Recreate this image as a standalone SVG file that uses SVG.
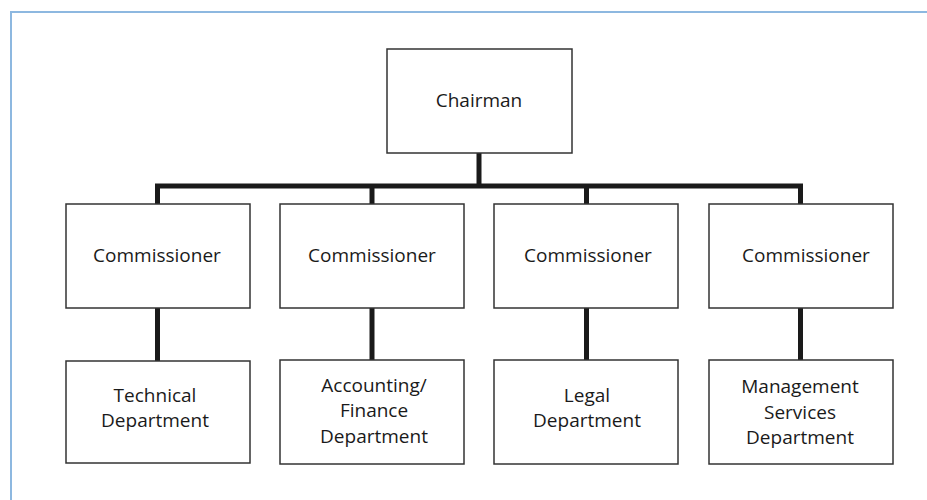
<svg xmlns="http://www.w3.org/2000/svg" width="927" height="500" viewBox="0 0 927 500">
<style>
.box{fill:#fff;stroke:#333;stroke-width:1.5}
.t{font-family:"Open Sans","Noto Sans",sans-serif;font-size:19px;fill:#1a1a1a;text-anchor:middle}
.c{stroke:#1a1a1a;stroke-width:5;fill:none}
.frame{stroke:#8db8e0;stroke-width:2;fill:none}
</style>
<rect width="927" height="500" fill="#fff"/>
<path class="frame" d="M11,500 V12 H927"/>
<g id="connectors">
<path class="c" d="M479,153 V186"/>
<path class="c" d="M155,186 H803"/>
<path class="c" d="M157.5,186 V204 M372,186 V204 M586.5,186 V204 M800.5,186 V204"/>
<path class="c" d="M157.5,308 V361 M372,308 V360 M586.5,308 V360 M800.5,308 V360"/>
</g>
<g id="chairman">
<rect class="box" x="387" y="49" width="185" height="104"/>
<text class="t" x="479" y="107">Chairman</text>
</g>
<g id="commissioner1">
<rect class="box" x="66" y="204" width="184" height="104"/>
<text class="t" x="157" y="262">Commissioner</text>
</g>
<g id="commissioner2">
<rect class="box" x="280" y="204" width="184" height="104"/>
<text class="t" x="372" y="262">Commissioner</text>
</g>
<g id="commissioner3">
<rect class="box" x="494" y="204" width="184" height="104"/>
<text class="t" x="588" y="262">Commissioner</text>
</g>
<g id="commissioner4">
<rect class="box" x="709" y="204" width="184" height="104"/>
<text class="t" x="806" y="262">Commissioner</text>
</g>
<g id="technical">
<rect class="box" x="66" y="361" width="184" height="102"/>
<text class="t" x="155" y="402">Technical</text>
<text class="t" x="155" y="427">Department</text>
</g>
<g id="accounting">
<rect class="box" x="280" y="360" width="184" height="104"/>
<text class="t" x="374" y="392">Accounting/</text>
<text class="t" x="374" y="417">Finance</text>
<text class="t" x="374" y="443">Department</text>
</g>
<g id="legal">
<rect class="box" x="494" y="360" width="184" height="104"/>
<text class="t" x="587" y="402">Legal</text>
<text class="t" x="587" y="427">Department</text>
</g>
<g id="management">
<rect class="box" x="709" y="360" width="184" height="104"/>
<text class="t" x="800" y="393">Management</text>
<text class="t" x="800" y="419">Services</text>
<text class="t" x="800" y="444">Department</text>
</g>
</svg>
